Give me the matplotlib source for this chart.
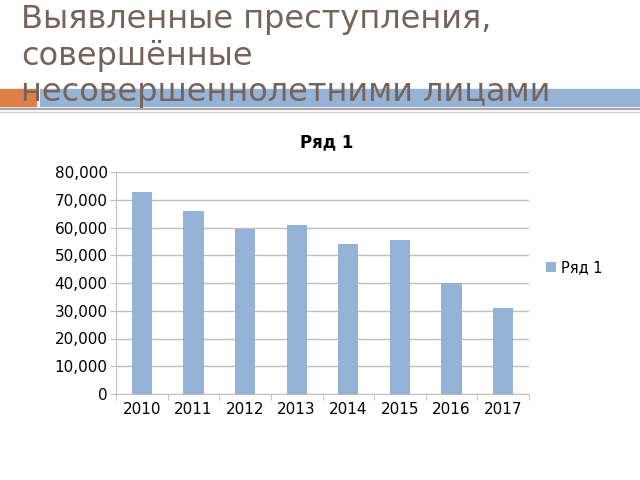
import numpy as np
import matplotlib
matplotlib.use("Agg")
import matplotlib.pyplot as plt
from matplotlib.patches import Rectangle
from matplotlib.lines import Line2D
from matplotlib.ticker import FuncFormatter, MultipleLocator, FixedLocator

# data
years = ["2010", "2011", "2012", "2013", "2014", "2015", "2016", "2017"]
crimes = [72800, 65900, 59600, 60800, 54000, 55400, 39900, 31000]
series_name = "Ряд 1"
slide_title = "Выявленные преступления,\nсовершённые\nнесовершеннолетними лицами"

bar_col = "#95b3d7"
grid_col = "#bfbfbf"

fig = plt.figure(figsize=(6.4, 4.8), dpi=100)
W, H = 640.0, 480.0

# header decoration: orange block, blue strip, two grey rules
fig.patches.append(Rectangle((0, 1 - 106/H), 36/W, 17/H, transform=fig.transFigure,
                             color="#dd8047", zorder=0))
fig.patches.append(Rectangle((40/W, 1 - 106/H), 600/W, 17/H, transform=fig.transFigure,
                             color="#95b3d7", zorder=0))
fig.lines.append(Line2D([0, 1], [1 - 108.5/H]*2, transform=fig.transFigure,
                        color="#a6a6a6", lw=1.5, zorder=0))
fig.lines.append(Line2D([0, 1], [1 - 111.5/H]*2, transform=fig.transFigure,
                        color="#cfcfcf", lw=1.0, zorder=0))

fig.text(21/W, 1 - 4/H, slide_title, ha="left", va="top", fontsize=23,
         color="#76635a", linespacing=1.2, zorder=5)

ax = fig.add_axes([116/W, 1 - 394/H, 413/W, 222/H])
x = np.arange(len(years))
ax.bar(x, crimes, width=0.39, color=bar_col, zorder=3, label=series_name)

ax.set_xlim(-0.5, len(years) - 0.5)
ax.set_ylim(0, 80000)
ax.yaxis.set_major_locator(MultipleLocator(10000))
ax.yaxis.set_major_formatter(FuncFormatter(lambda v, p: f"{int(v):,}"))
ax.set_xticks(x)
ax.set_xticklabels(years)
ax.xaxis.set_minor_locator(FixedLocator(np.arange(-0.5, len(years), 1.0)))
ax.tick_params(axis="x", which="major", length=0, labelsize=11, pad=6)
ax.tick_params(axis="x", which="minor", length=4, color=grid_col, direction="out")
ax.tick_params(axis="y", length=4, color=grid_col, labelsize=11, pad=2)

ax.grid(axis="y", color=grid_col, lw=1, zorder=0)
for s in ["top", "right"]:
    ax.spines[s].set_visible(False)
for s in ["left", "bottom"]:
    ax.spines[s].set_color(grid_col)

ax.set_title(series_name, fontsize=12, fontweight="bold", pad=18, x=0.51)
ax.legend(loc="center left", bbox_to_anchor=(1.01, 0.57), frameon=False,
          fontsize=10.5, handlelength=0.7, handleheight=0.7, handletextpad=0.3)

fig.savefig("out.png", dpi=100)
